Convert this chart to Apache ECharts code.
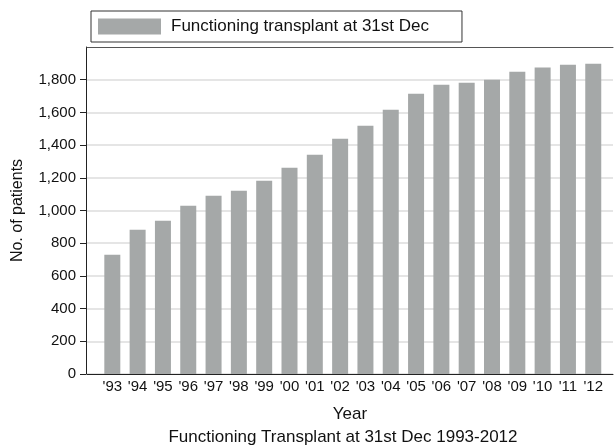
<!DOCTYPE html>
<html>
<head>
<meta charset="utf-8">
<script src="https://cdn.jsdelivr.net/npm/echarts@6/dist/echarts.min.js"></script>
<style>
    html, body { margin: 0; padding: 0; background: #fff; }
    #chart { width: 616px; height: 445px; }
</style>
</head>
<body>
<div id="chart"></div>
<script>
    // years shown as '93 .. '12
    var yearLabels = ["'93", "'94", "'95", "'96", "'97", "'98", "'99", "'00", "'01", "'02",
        "'03", "'04", "'05", "'06", "'07", "'08", "'09", "'10", "'11", "'12"];
    var patients = [730, 882, 937, 1029, 1090, 1121, 1182, 1262, 1341, 1439,
        1519, 1616, 1714, 1769, 1782, 1800, 1849, 1874, 1892, 1898];
    var yTicks = [0, 200, 400, 600, 800, 1000, 1200, 1400, 1600, 1800];

    var fontFam = '"Liberation Sans", Arial, sans-serif';
    var chart = echarts.init(document.getElementById('chart'));

    chart.setOption({
        animation: false,
        title: {
            text: 'Functioning Transplant at 31st Dec 1993-2012',
            left: 343,
            top: 429,
            textAlign: 'center',
            padding: 0,
            textStyle: { fontFamily: fontFam, fontSize: 17, fontWeight: 'normal', color: '#111' }
        },
        legend: {
            left: 91,
            top: 11,
            padding: [7, 33, 7, 7],
            borderColor: '#333',
            borderWidth: 1,
            itemWidth: 63,
            itemHeight: 16,
            icon: 'rect',
            textStyle: { fontFamily: fontFam, fontSize: 17, color: '#111', padding: [0, 0, 0, 5] },
            data: ['Functioning transplant at 31st Dec']
        },
        grid: { left: 87, right: -5, top: 47, height: 327 },
        xAxis: [{
            type: 'value',
            min: -1,
            max: 19.78,
            interval: 1,
            name: 'Year',
            nameLocation: 'middle',
            nameGap: 32,
            nameTextStyle: { fontFamily: fontFam, fontSize: 17, color: '#111' },
            axisLine: { onZero: false, lineStyle: { color: '#222', width: 1 } },
            axisTick: { show: false },
            splitLine: { show: false },
            axisLabel: {
                margin: 5,
                fontFamily: fontFam, fontSize: 15, color: '#111',
                showMinLabel: true, showMaxLabel: true,
                formatter: function (v) {
                    return (Number.isInteger(v) && v >= 0 && v < yearLabels.length) ? yearLabels[v] : '';
                }
            }
        }, {
            type: 'value',
            position: 'top',
            min: -1,
            max: 19.78,
            axisLine: { show: true, onZero: false, lineStyle: { color: '#555', width: 1 } },
            axisTick: { show: false },
            axisLabel: { show: false },
            splitLine: { show: false }
        }],
        yAxis: {
            type: 'value',
            min: 0,
            max: 2000,
            interval: 200,
            offset: 1,
            name: 'No. of patients',
            nameLocation: 'middle',
            nameGap: 60,
            nameTextStyle: { fontFamily: fontFam, fontSize: 16, color: '#111' },
            axisLine: { show: true, onZero: false, lineStyle: { color: '#222', width: 1 } },
            axisTick: { show: true, length: 6, customValues: yTicks, lineStyle: { color: '#222' } },
            axisLabel: {
                margin: 10,
                customValues: yTicks,
                fontFamily: fontFam, fontSize: 15, color: '#111',
                formatter: function (v) { return v.toLocaleString('en-US'); }
            },
            splitLine: { show: true, lineStyle: { color: '#dcdcdc', width: 1.5 } }
        },
        series: [{
            name: 'Functioning transplant at 31st Dec',
            type: 'bar',
            barWidth: 16,
            itemStyle: { color: '#a5a8a8' },
            data: patients.map(function (v, i) { return [i, v]; })
        }]
    });
</script>
</body>
</html>
